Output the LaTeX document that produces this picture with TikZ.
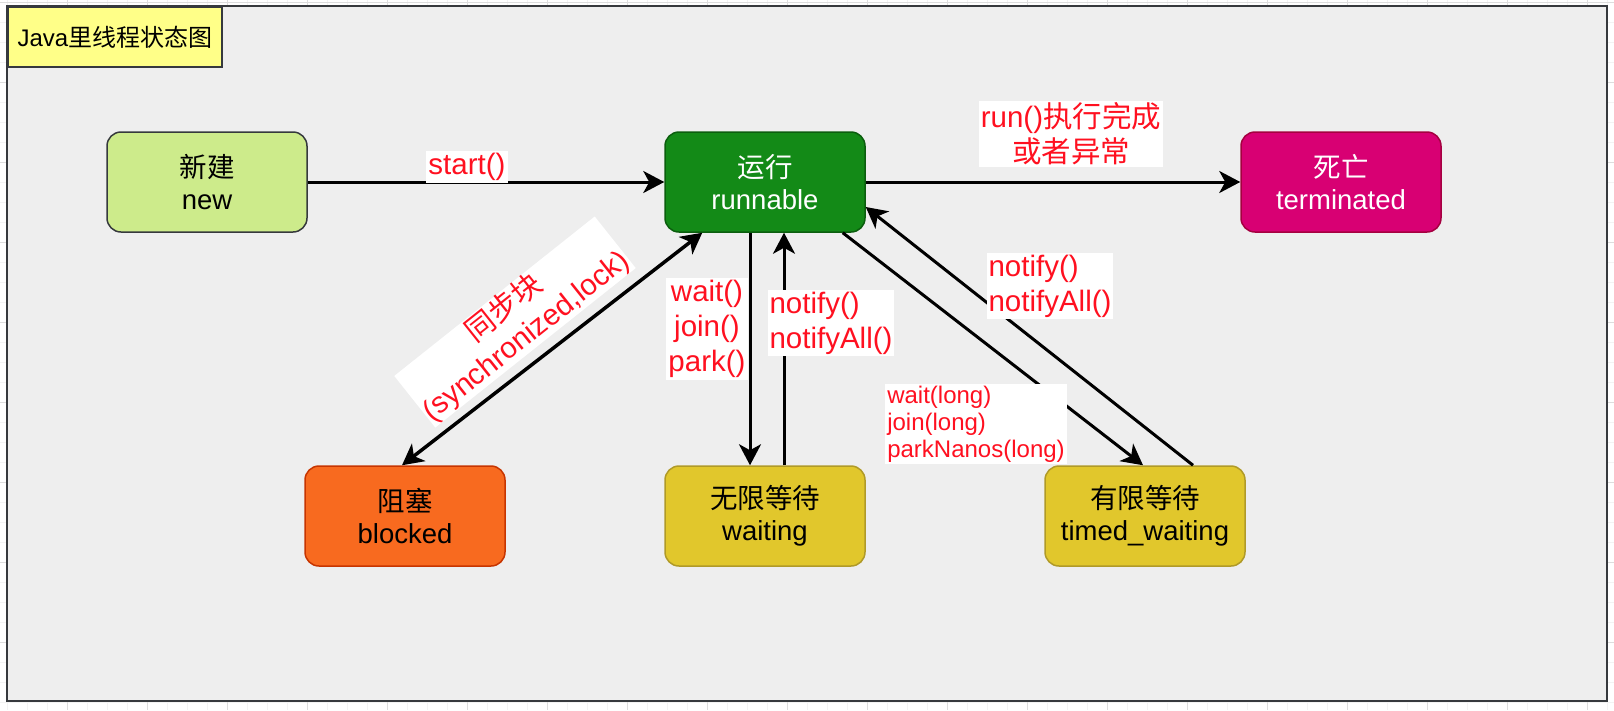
\documentclass[tikz,border=0pt]{standalone}
\usepackage{fontspec}
\setmainfont{Liberation Sans}
\newfontfamily\cjk{Noto Sans CJK SC}
\usetikzlibrary{arrows.meta}
\definecolor{bgbox}{HTML}{EEEEEE}
\definecolor{darkline}{HTML}{36393D}
\definecolor{titlefill}{HTML}{FFFF88}
\definecolor{newfill}{HTML}{CDEB8B}
\definecolor{runfill}{HTML}{138A17}
\definecolor{runline}{HTML}{0B5E0E}
\definecolor{termfill}{HTML}{D80073}
\definecolor{termline}{HTML}{A50040}
\definecolor{blockfill}{HTML}{F86A1F}
\definecolor{blockline}{HTML}{C73500}
\definecolor{waitfill}{HTML}{E1C72C}
\definecolor{waitline}{HTML}{B09A28}
\definecolor{lblred}{HTML}{FF1020}
\definecolor{gridminor}{HTML}{F3F3F3}
\definecolor{gridmajor}{HTML}{DDDDDD}
\begin{document}
\begin{tikzpicture}[x=1pt,y=-1pt,
  state/.style={rounded corners=14pt, minimum width=200pt, minimum height=100pt,
    inner sep=0pt, align=center, line width=1.5pt, font=\fontsize{27.5}{32}\selectfont},
  lbl/.style={fill=white, text=lblred, inner sep=2pt, align=center,
    font=\fontsize{29.5}{35}\selectfont},
  smalllbl/.style={fill=white, text=lblred, inner sep=2pt, align=left,
    font=\fontsize{24}{27}\selectfont},
  arr/.style={line width=3pt, -{Stealth[length=21pt,width=22pt,inset=6pt]}},
  dbl/.style={line width=3.5pt, {Stealth[length=21pt,width=22pt,inset=6pt]}-{Stealth[length=21pt,width=22pt,inset=6pt]}},
  minorline/.style={draw=gridminor, line width=1pt},
  majorline/.style={draw=gridmajor, line width=1pt}]
\useasboundingbox (0,0) rectangle (1614,710);
\fill[white] (0,0) rectangle (1614,710);
% background grid
\foreach \x in {7,27,...,1614} \draw[minorline] (\x,0) -- (\x,710);
\foreach \y in {2,22,...,710} \draw[minorline] (0,\y) -- (1614,\y);
\foreach \x in {67,147,...,1614} \draw[majorline] (\x,0) -- (\x,710);
\foreach \y in {2,82,...,710} \draw[majorline] (0,\y) -- (1614,\y);
% container
\draw[fill=bgbox, draw=darkline, line width=2.5pt] (7,6) rectangle (1607,701);
% title
\node[anchor=north west, minimum width=214pt, minimum height=60pt, inner sep=0pt,
  fill=titlefill, draw=darkline, line width=2pt, font=\fontsize{24}{28}\selectfont]
  (title) at (7,6) {Java{\cjk 里线程状态图}};
% states
\node[state, fill=newfill, draw=darkline] (new) at (207,182) {{\cjk 新建}\\new};
\node[state, fill=runfill, draw=runline, text=white] (run) at (765,182) {{\cjk 运行}\\runnable};
\node[state, fill=termfill, draw=termline, text=white] (term) at (1341,182) {{\cjk 死亡}\\terminated};
\node[state, fill=blockfill, draw=blockline] (block) at (405,516) {{\cjk 阻塞}\\blocked};
\node[state, fill=waitfill, draw=waitline] (wait) at (765,516) {{\cjk 无限等待}\\waiting};
\node[state, fill=waitfill, draw=waitline] (timed) at (1145,516) {{\cjk 有限等待}\\timed\_waiting};
% connectors
\draw[arr] (new.east) -- (run.west);
\draw[arr] (run.east) -- (term.west);
\draw[dbl] ([xshift=-3pt]block.north) -- ([xshift=38pt]run.south west);
\draw[arr] ([xshift=-15pt]run.south) -- ([xshift=-15pt]wait.north);
\draw[arr] ([xshift=19pt]wait.north) -- ([xshift=19pt]run.south);
\draw[arr] ([xshift=-23pt]run.south east) -- ([xshift=-2pt]timed.north);
\draw[arr] ([xshift=48pt]timed.north) -- ([yshift=-25pt]run.east);
% labels
\node[lbl] (lstart) at (467,167) {start()};
\node[lbl] (lrun) at (1071,134) {run(){\cjk 执行完成}\\{\cjk 或者异常}};
\node[lbl, rotate=38.5, inner xsep=1pt, inner ysep=0pt] (lsync) at (515,322) {{\cjk 同步块}\\(synchronized,lock)};
\node[lbl] (lwait) at (707,329) {wait()\\join()\\park()};
\node[lbl, align=left] (lnotify) at (831,323) {notify()\\notifyAll()};
\node[lbl, align=left] (lnotify2) at (1050,286) {notify()\\notifyAll()};
\node[smalllbl] (ltimed) at (976,424) {wait(long)\\join(long)\\parkNanos(long)};
\end{tikzpicture}
\end{document}
